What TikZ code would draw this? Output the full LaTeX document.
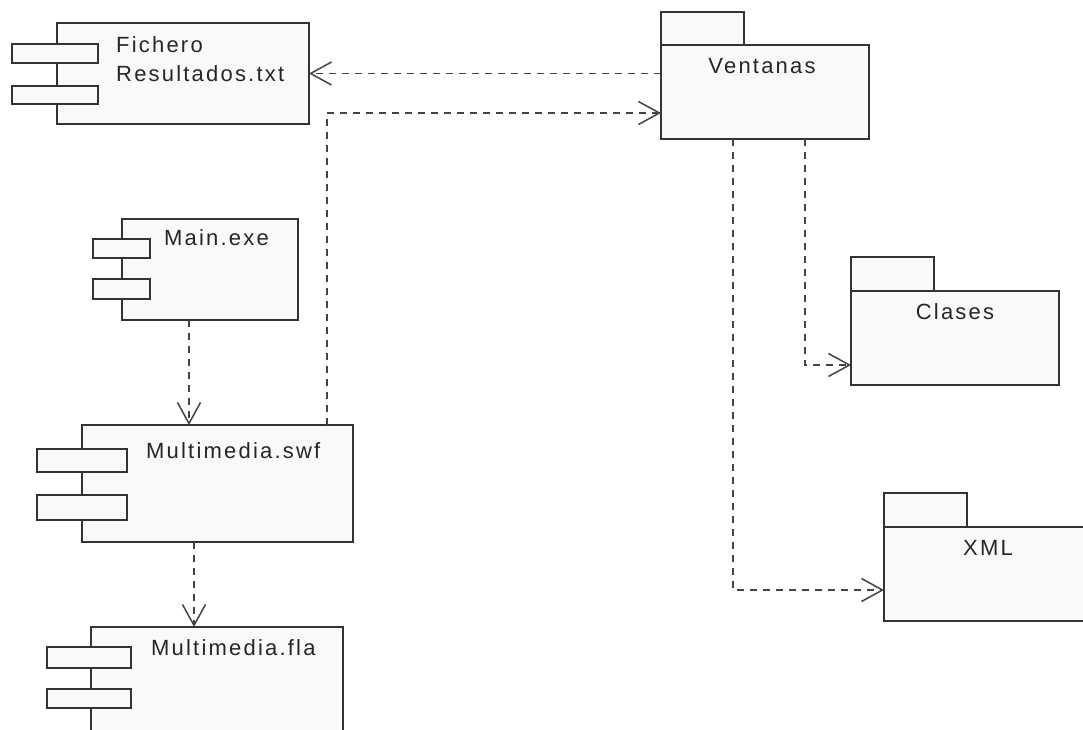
\documentclass[tikz,border=0pt]{standalone}
\usepackage{fontspec}
\setmainfont{Liberation Sans}[LetterSpace=10]
\usetikzlibrary{arrows.meta}
\definecolor{ln}{HTML}{333333}
\definecolor{dl}{HTML}{444444}
\definecolor{bx}{HTML}{F9F9F9}
\begin{document}
\begin{tikzpicture}[x=1pt,y=-1pt,
  box/.style={draw=ln, fill=bx, line width=1.8pt, rectangle, inner sep=0pt, outer sep=0pt, anchor=north west},
  lbl/.style={font=\fontsize{22}{29}\selectfont, text=black!85, inner sep=0pt},
  opentip/.tip={Straight Barb[length=21pt, width=23pt, line width=1.5pt]},
  dep/.style={draw=dl, line width=1.8pt, dash pattern=on 7pt off 6pt, -opentip}]
\useasboundingbox[fill=white] (0,0) rectangle (1083,729);
\clip (0,0) rectangle (1083,729);

% Fichero Resultados.txt
\node[box, minimum width=252pt, minimum height=101pt] (fich) at (57,23) {};
\node[box, minimum width=86pt, minimum height=19pt] (fich-p1) at (12,44) {};
\node[box, minimum width=86pt, minimum height=18pt] (fich-p2) at (12,86) {};
\node[lbl, anchor=base west, align=left] (fich-t) at (116,81) {Fichero\\Resultados.txt};

% Main.exe
\node[box, minimum width=176pt, minimum height=101pt] (main) at (122,219) {};
\node[box, minimum width=57pt, minimum height=19pt] (main-p1) at (93,239) {};
\node[box, minimum width=57pt, minimum height=20pt] (main-p2) at (93,279) {};
\node[lbl, anchor=base west] (main-t) at (164,245) {Main.exe};

% Multimedia.swf
\node[box, minimum width=271pt, minimum height=117pt] (swf) at (82,425) {};
\node[box, minimum width=90pt, minimum height=23pt] (swf-p1) at (37,449) {};
\node[box, minimum width=90pt, minimum height=25pt] (swf-p2) at (37,495) {};
\node[lbl, anchor=base west] (swf-t) at (146,458) {Multimedia.swf};

% Multimedia.fla
\node[box, minimum width=252pt, minimum height=120pt] (fla) at (91,627) {};
\node[box, minimum width=84pt, minimum height=21pt] (fla-p1) at (47,647) {};
\node[box, minimum width=84pt, minimum height=19pt] (fla-p2) at (47,689) {};
\node[lbl, anchor=base west] (fla-t) at (151,655) {Multimedia.fla};

% Ventanas package
\node[box, minimum width=83pt, minimum height=33pt] (vent-tab) at (661,12) {};
\node[box, minimum width=208pt, minimum height=94pt] (vent) at (661,45) {};
\node[lbl, anchor=base] (vent-t) at (762,73) {Ventanas};

% Clases package
\node[box, minimum width=83pt, minimum height=34pt] (clas-tab) at (851,257) {};
\node[box, minimum width=208pt, minimum height=94pt] (clas) at (851,291) {};
\node[lbl, anchor=base] (clas-t) at (955,319) {Clases};

% XML package
\node[box, minimum width=83pt, minimum height=34pt] (xml-tab) at (884,493) {};
\node[box, minimum width=208pt, minimum height=94pt] (xml) at (884,527) {};
\node[lbl, anchor=base] (xml-t) at (988,555) {XML};

% dependencies
\draw[dep] (vent.west |- fich.east) -- (fich.east);
\draw[dep] ([xshift=-26pt]swf.north east) |- ([yshift=-21pt]vent.west);
\draw[dep] ([xshift=-21pt]main.south) -- ([xshift=-21pt]main.south |- swf.north);
\draw[dep] ([xshift=-23.5pt]swf.south) -- ([xshift=-23.5pt]swf.south |- fla.north);
\draw[dep] ([xshift=40pt]vent.south) |- ([yshift=-27pt]clas.west);
\draw[dep] ([xshift=-32pt]vent.south) |- ([yshift=-16pt]xml.west);
\end{tikzpicture}
\end{document}
